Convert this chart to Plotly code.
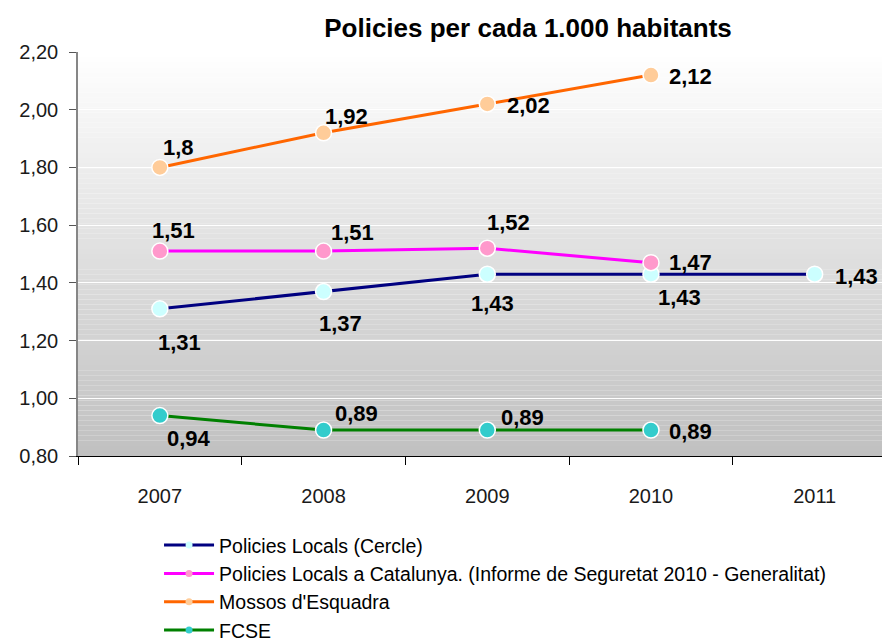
import plotly.graph_objects as go

years = ["2007", "2008", "2009", "2010", "2011"]

cercle = [1.31, 1.37, 1.43, 1.43, 1.43]
cercle_txt = ["1,31", "1,37", "1,43", "1,43", "1,43"]

catalunya = [1.51, 1.51, 1.52, 1.47]
catalunya_txt = ["1,51", "1,51", "1,52", "1,47"]

mossos = [1.80, 1.92, 2.02, 2.12]
mossos_txt = ["1,8", "1,92", "2,02", "2,12"]

fcse = [0.94, 0.89, 0.89, 0.89]
fcse_txt = ["0,94", "0,89", "0,89", "0,89"]

names = [
    "Policies Locals (Cercle)",
    "Policies Locals a Catalunya. (Informe de Seguretat 2010 - Generalitat)",
    "Mossos d'Esquadra",
    "FCSE",
]
line_colors = ["#000080", "#FF00FF", "#FF6600", "#008000"]
marker_colors = ["#CCFFFF", "#FF99CC", "#FFCC99", "#33CCCC"]

# label offsets in px (dx right, dy down) from each point, styling only
cercle_off = [(20, 34), (17, 32), (5, 29), (29, 23), (42, 2)]
catalunya_off = [(14, -21), (29, -19), (21, -26), (40, 0)]
mossos_off = [(19, -20), (23, -16), (41, 2), (40, 1)]
fcse_off = [(29, 23), (33, -17), (35, -13), (40, 1)]

series = [
    (cercle, cercle_txt, cercle_off),
    (catalunya, catalunya_txt, catalunya_off),
    (mossos, mossos_txt, mossos_off),
    (fcse, fcse_txt, fcse_off),
]

fig = go.Figure()

for i, (vals, txt, offs) in enumerate(series):
    xs = years[:len(vals)]
    fig.add_trace(go.Scatter(
        x=xs, y=vals, mode="lines+markers",
        line=dict(color=line_colors[i], width=3),
        marker=dict(size=16, color=marker_colors[i], line=dict(color="white", width=1.5)),
        showlegend=False, legendgroup=f"g{i}", cliponaxis=False, hoverinfo="skip",
    ))

for i in range(4):
    fig.add_trace(go.Scatter(
        x=[None], y=[None], mode="lines+markers", name=names[i],
        line=dict(color=line_colors[i], width=3),
        marker=dict(size=7, color=marker_colors[i]),
        legendgroup=f"g{i}", showlegend=True,
    ))

for i, (vals, txt, offs) in enumerate(series):
    for j, (yv, t, (dx, dy)) in enumerate(zip(vals, txt, offs)):
        fig.add_annotation(
            x=j, y=yv, xref="x", yref="y", text="<b>" + t + "</b>",
            showarrow=False, xshift=dx, yshift=-dy,
            font=dict(family="Liberation Sans, Arial", size=22, color="#000000"),
        )

# vertical gradient background
n = 80
for k in range(n):
    t = (k + 0.5) / n  # 0 bottom -> 1 top
    c = int(round(192 + (255 - 192) * t))
    fig.add_shape(
        type="rect", xref="x domain", yref="y domain",
        x0=0, x1=1, y0=k / n, y1=(k + 1) / n,
        fillcolor=f"rgb({c},{c},{c})", line=dict(width=0), layer="below",
    )

fig.update_layout(
    width=882, height=633,
    margin=dict(l=70, r=0, t=44, b=185, autoexpand=False),
    paper_bgcolor="white", plot_bgcolor="rgba(0,0,0,0)",
    separators=",.",
    font=dict(family="Liberation Sans, Arial", color="#1a1a1a"),
    title=dict(
        text="<b>Policies per cada 1.000 habitants</b>",
        font=dict(size=26, color="#000000"),
        x=520 / 882, xanchor="center", y=1 - 20 / 633, yanchor="middle",
    ),
    legend=dict(
        x=0.0998, y=-0.173, xanchor="left", yanchor="top",
        font=dict(size=19.5, color="#000000"),
        itemwidth=50, tracegroupgap=0, bgcolor="rgba(0,0,0,0)",
    ),
    xaxis=dict(
        type="category", range=[-0.5, 4.46],
        categoryorder="array", categoryarray=years,
        showgrid=False, showline=True, linecolor="#000000", linewidth=1,
        ticks="outside", tickson="boundaries", ticklen=8, tickcolor="#000000",
        tickfont=dict(size=20, color="#1a1a1a"), ticklabelstandoff=22,
    ),
    yaxis=dict(
        range=[0.8, 2.2], dtick=0.2, tick0=0.8, tickformat=".2f",
        showgrid=True, gridcolor="white", gridwidth=1,
        showline=True, linecolor="#868686", linewidth=1.5,
        ticks="outside", ticklen=7, tickcolor="#555555",
        tickfont=dict(size=20, color="#1a1a1a"), zeroline=False,
        ticklabelstandoff=7,
    ),
)

fig.write_html("out.html")
